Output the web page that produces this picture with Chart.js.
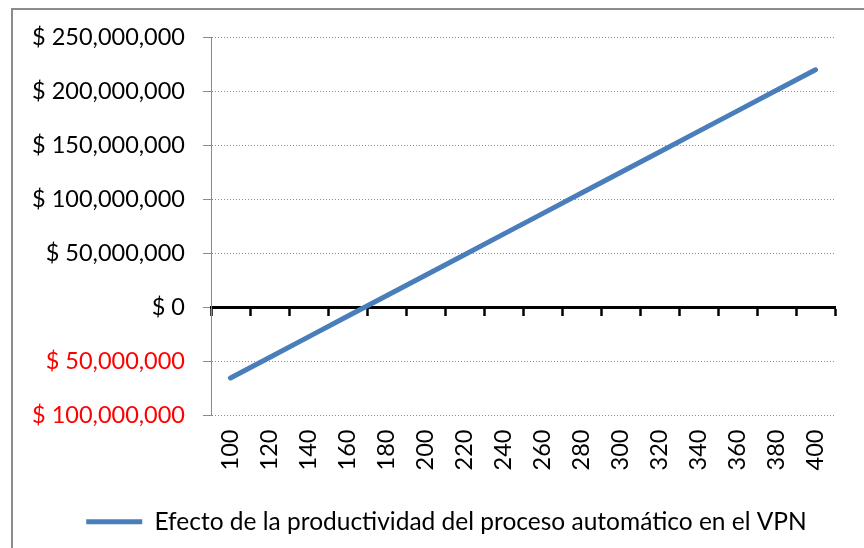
<!DOCTYPE html>
<html>
<head>
<meta charset="utf-8">
<script src="https://cdn.jsdelivr.net/npm/chart.js@4.4.1/dist/chart.umd.min.js"></script>
<style>
  html, body { margin: 0; padding: 0; background: #fff; overflow: hidden; }
  #marco { position: absolute; left: 11px; top: 8px; width: 900px; height: 600px; border: 2px solid #8c8c8c; }
  #contenedor { position: absolute; left: 0; top: 0; width: 864px; height: 548px; }
</style>
</head>
<body>
<div id="marco"></div>
<div id="contenedor"><canvas id="grafica" width="864" height="548"></canvas></div>
<script>
// Datos
const productividad = ['100', '120', '140', '160', '180', '200', '220', '240', '260', '280', '300', '320', '340', '360', '380', '400'];
const vpn = [-65300000, -46300000, -27300000, -8300000, 10700000, 29700000, 48700000, 67700000,
             86700000, 105700000, 124700000, 143700000, 162700000, 181700000, 200700000, 219700000];
const etiquetaSerie = 'Efecto de la productividad del proceso automático en el VPN';
const ejeMin = -100000000, ejeMax = 250000000, paso = 50000000;

const fuente = { family: 'Lato', size: 23.5 };
const azul = '#4a7ebb';
const gris = '#8a8a8a';

// Formato de moneda sin signo (negativos en rojo)
function formatoPesos(v) {
    if (v === 0) return '$ 0';
    return '$ ' + Math.abs(v).toLocaleString('en-US');
}

// Mover la leyenda un poco a la derecha (centrada como en Excel)
const moverLeyenda = {
    id: 'moverLeyenda',
    afterLayout(chart) {
        chart.legend.left += 22;
        chart.legend.right += 22;
    }
};

const ctx = document.getElementById('grafica').getContext('2d');
new Chart(ctx, {
    type: 'line',
    data: {
        labels: productividad,
        datasets: [{
            label: etiquetaSerie,
            data: vpn,
            borderColor: azul,
            backgroundColor: azul,
            borderWidth: 5,
            borderCapStyle: 'round',
            pointRadius: 0,
            tension: 0
        }]
    },
    plugins: [moverLeyenda],
    options: {
        responsive: false,
        animation: false,
        layout: { padding: { left: 14, right: 29, top: 37, bottom: 4 } },
        plugins: {
            tooltip: { enabled: false },
            legend: {
                position: 'bottom',
                labels: {
                    font: { family: 'Lato', size: 24.5 },
                    color: '#000',
                    boxWidth: 56,
                    boxHeight: 5,
                    padding: 10,
                    generateLabels: chart => Chart.defaults.plugins.legend.labels.generateLabels(chart)
                        .map(l => ({ ...l, lineWidth: 0, fillStyle: azul }))
                }
            }
        },
        scales: {
            x: {
                type: 'category',
                offset: true,
                grid: { display: false, drawTicks: false },
                border: { display: false },
                ticks: { font: fuente, color: '#000', minRotation: 90, maxRotation: 90, padding: 14, autoSkip: false },
                afterFit: s => { s.height = 84; }
            },
            x2: {
                type: 'category',
                position: { y: 0 },
                offset: true,
                grid: { offset: true, drawOnChartArea: false, drawTicks: true, tickLength: 7, tickColor: '#000', tickWidth: 2.5 },
                border: { color: '#000', width: 3 },
                ticks: { display: false }
            },
            y: {
                min: ejeMin,
                max: ejeMax,
                afterFit: s => { s.width = 197; },
                ticks: {
                    stepSize: paso,
                    font: fuente,
                    padding: 18,
                    color: c => c.tick.value < 0 ? '#ff0000' : '#000',
                    callback: v => formatoPesos(v)
                },
                grid: {
                    color: c => c.tick.value === 0 ? 'rgba(0,0,0,0)' : gris,
                    tickLength: 8,
                    tickColor: gris,
                    tickBorderDash: [],
                    lineWidth: 1
                },
                border: { color: gris, width: 1, dash: [1, 2] }
            }
        }
    }
});
</script>
</body>
</html>
